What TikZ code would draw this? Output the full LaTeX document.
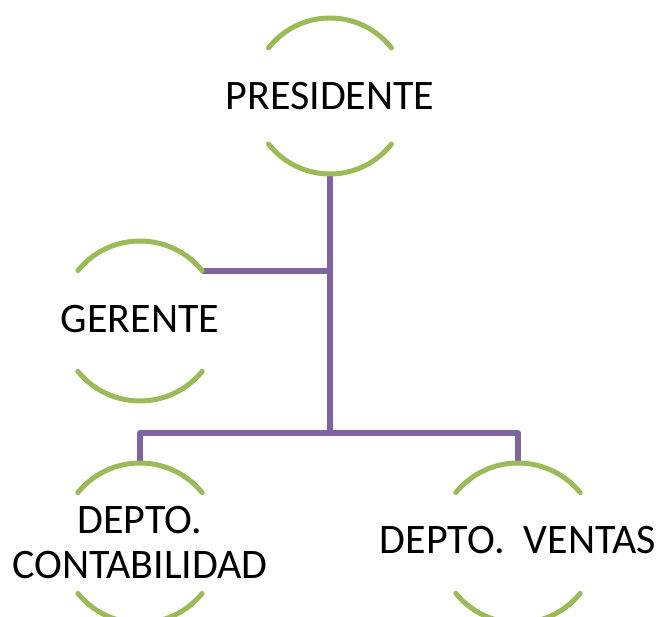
\documentclass[tikz,border=0pt]{standalone}
\usepackage{fontspec}
\setmainfont{Carlito}
\definecolor{ogreen}{HTML}{9BBB59}
\definecolor{opurple}{HTML}{8064A2}
\tikzset{
  ring/.style={circle, minimum size=#1, inner sep=0pt, outer sep=0pt, draw=none},
  lbl/.style={font=\fontsize{42}{45}\selectfont, align=center, inner sep=0pt, text=black},
  arcline/.style={draw=ogreen, line width=5pt, line cap=round},
  conn/.style={draw=opurple, line width=6pt, line join=round}
}
\begin{document}
\begin{tikzpicture}[x=1pt,y=1pt]
\useasboundingbox (0,0) rectangle (660,617);
% rings
\node[ring=156] (pres) at (330,521) {};
\node[ring=160] (ger) at (140,296) {};
\node[ring=160] (cont) at (140,74) {};
\node[ring=160] (vent) at (518,74) {};
\coordinate (j) at (330,184);
% connectors
\draw[conn] (pres.south) -- (j);
\draw[conn] (ger.39) -- (ger.39 -| pres.south);
\draw[conn] (cont.north) |- (j) -| (vent.north);
% arcs
\draw[arcline] (pres.38) arc[start angle=38, end angle=142, radius=78];
\draw[arcline] (pres.218) arc[start angle=218, end angle=322, radius=78];
\foreach \n in {ger,cont,vent}{
  \draw[arcline] (\n.39) arc[start angle=39, end angle=141, radius=80];
  \draw[arcline] (\n.219) arc[start angle=219, end angle=321, radius=80];
}
% labels
\node[lbl] (presT) at (pres) {PRESIDENTE};
\node[lbl] (gerT) at ([yshift=2pt]ger.center) {GERENTE};
\node[lbl] (contT) at ([yshift=0pt]cont.center) {DEPTO.\\CONTABILIDAD};
\node[lbl] (ventT) at ([yshift=3pt]vent.center) {DEPTO.\ \ VENTAS};
\end{tikzpicture}
\end{document}
